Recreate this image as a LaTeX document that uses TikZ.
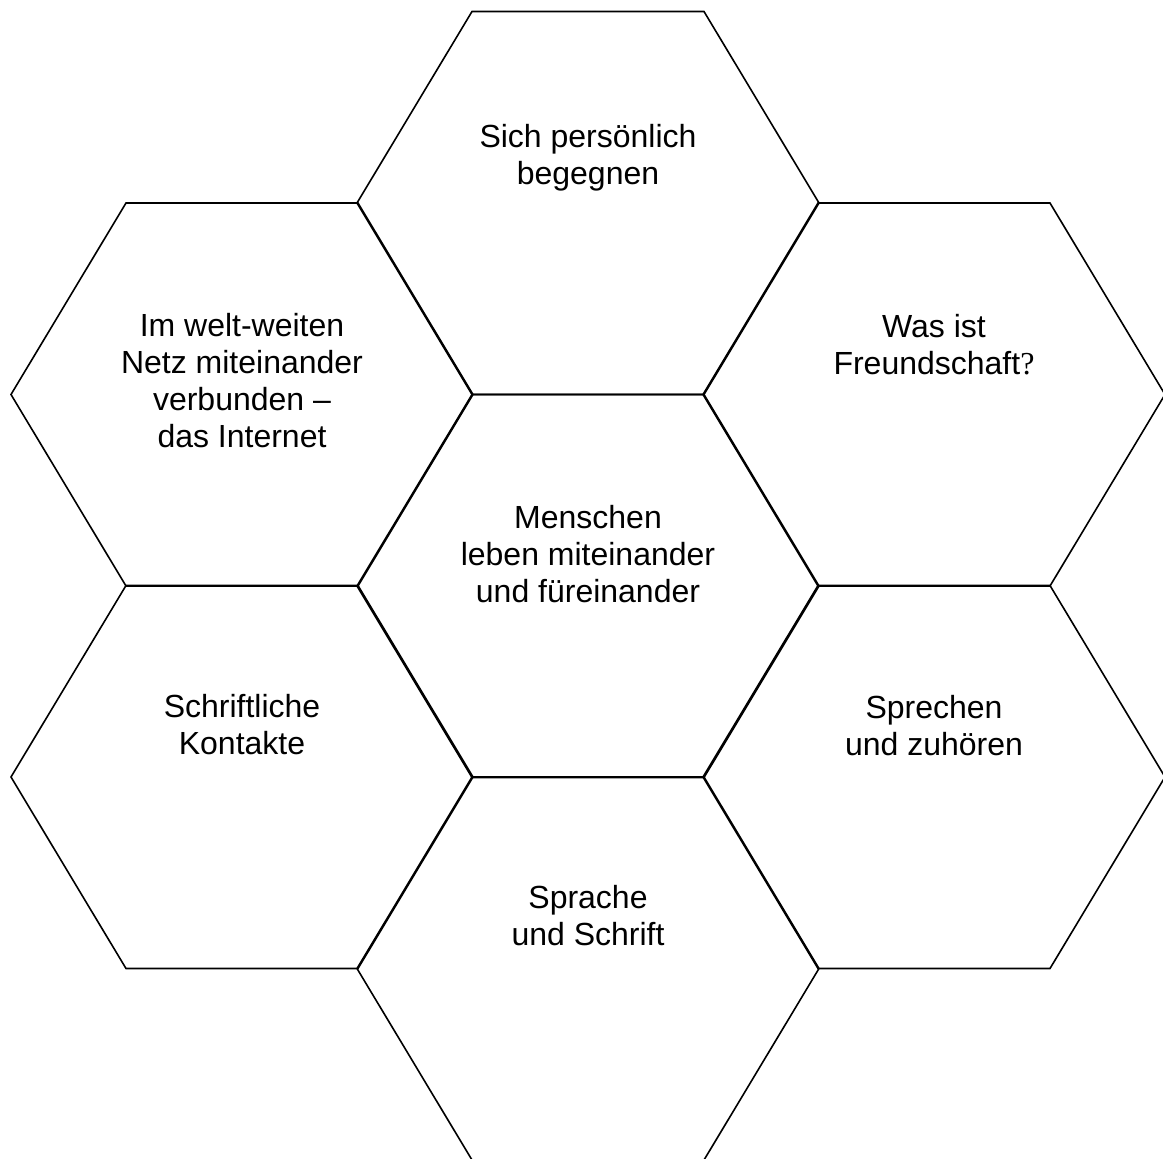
\documentclass[tikz,border=0pt]{standalone}
\usepackage{fontspec}
\setmainfont{Liberation Sans}
\newfontfamily\qfont{Liberation Serif}
\newcommand\hexcell[2]{\draw[hexline] ({#1-231},#2) -- ({#1-116},{#2-191.5}) -- ({#1+116},{#2-191.5}) -- ({#1+231},#2) -- ({#1+116},{#2+191.5}) -- ({#1-116},{#2+191.5}) -- cycle;}
\begin{document}
\begin{tikzpicture}[x=1pt,y=-1pt,
  hexline/.style={line width=1.6pt, line join=miter},
  lbl/.style={align=center, font=\fontsize{32}{36.8}\selectfont, inner sep=0pt, anchor=base}]
\useasboundingbox (0,0) rectangle (1163,1159);
\hexcell{588}{586}
\hexcell{588}{203}
\hexcell{242}{394.5}
\hexcell{934}{394.5}
\hexcell{242}{777}
\hexcell{934}{777}
\hexcell{588}{968.5}
\node[lbl] (top) at (588,184) {Sich persönlich\\begegnen};
\node[lbl] (tr) at (934,374) {Was ist\\Freundschaft{\qfont ?}};
\node[lbl] (tl) at (242,447) {Im welt-weiten\\Netz miteinander\\verbunden –\\das Internet};
\node[lbl] (mid) at (588,602) {Menschen\\leben miteinander\\und füreinander};
\node[lbl] (bl) at (242,754) {Schriftliche\\Kontakte};
\node[lbl] (br) at (934,755) {Sprechen\\und zuhören};
\node[lbl] (bot) at (588,945) {Sprache\\und Schrift};
\end{tikzpicture}
\end{document}
